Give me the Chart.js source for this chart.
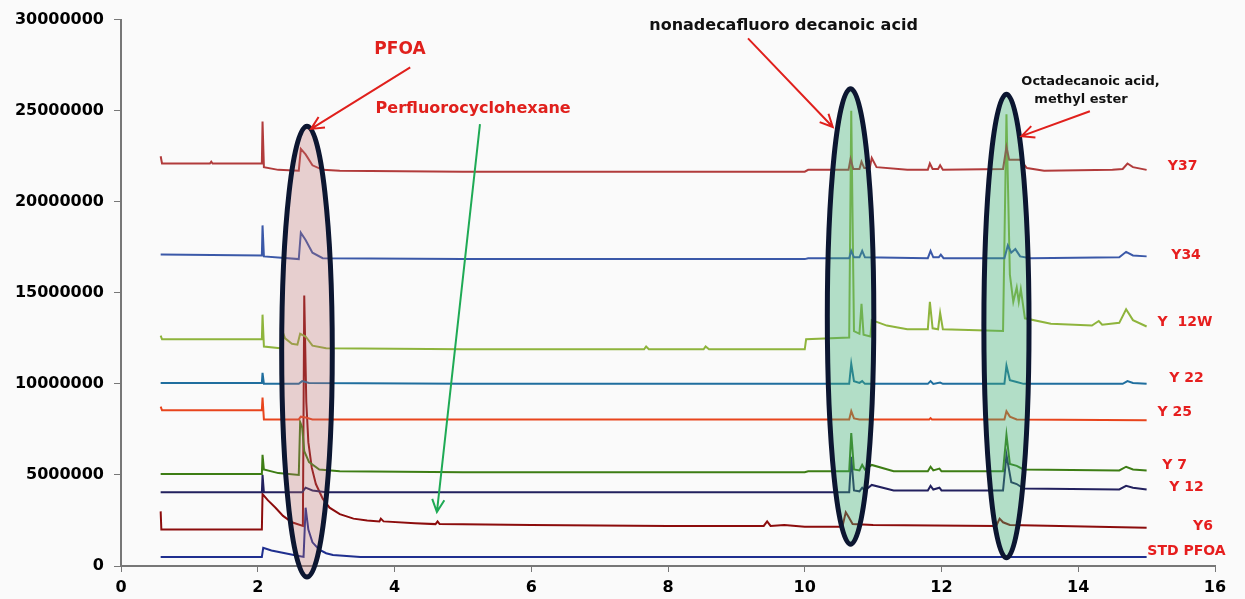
<!DOCTYPE html>
<html lang="en">
<head>
  <meta charset="UTF-8">
  <title>Cromatogramas PFOA</title>
  <script src="https://cdn.jsdelivr.net/npm/chart.js"></script>
  <style>
    html, body { margin: 0; padding: 0; background: #fafafa; }
    #chartContainer { width: 1245px; height: 599px; position: relative; }
  </style>
</head>
<body>
  <div id="chartContainer">
    <canvas id="myChart"></canvas>
  </div>

  <script>
    // Datos: [tiempo de retención (min), abundancia (millones)]
    const seriesNames = ['Y37', 'Y34', 'Y  12W', 'Y 22', 'Y 25', 'Y 7', 'Y 12', 'Y6', 'STD PFOA'];

    const y37 = [[0.58,22.5],[0.6,22.1],[1.3,22.1],[1.32,22.2],[1.34,22.1],[2.06,22.1],[2.07,24.4],[2.09,21.9],[2.3,21.75],[2.6,21.7],
      [2.63,22.9],[2.7,22.6],[2.8,22.0],[2.95,21.75],[3.2,21.7],[5,21.65],[8,21.65],[10,21.65],[10.05,21.75],[10.64,21.75],
      [10.67,22.35],[10.71,21.8],[10.8,21.8],[10.83,22.2],[10.87,21.85],[10.95,21.85],[10.98,22.4],[11.05,21.9],[11.5,21.75],
      [11.8,21.75],[11.83,22.1],[11.87,21.8],[11.95,21.8],[11.98,22.0],[12.02,21.75],[12.9,21.8],[12.95,23.0],[12.99,22.3],
      [13.15,22.3],[13.25,21.85],[13.5,21.7],[14.5,21.75],[14.65,21.8],[14.72,22.1],[14.8,21.9],[15,21.75]];

    const y34 = [[0.58,17.1],[2.06,17.05],[2.07,18.7],[2.09,17.0],[2.6,16.85],[2.63,18.3],[2.7,17.9],[2.8,17.2],[2.95,16.9],
      [5,16.85],[10,16.85],[10.05,16.9],[10.65,16.9],[10.68,17.3],[10.72,16.95],[10.8,16.95],[10.84,17.3],[10.88,16.95],
      [11.8,16.9],[11.84,17.3],[11.88,16.95],[11.96,16.95],[11.99,17.1],[12.03,16.9],[12.92,16.9],[12.97,17.6],[13.02,17.2],
      [13.08,17.4],[13.15,17.0],[13.3,16.9],[14.6,16.95],[14.7,17.25],[14.8,17.05],[15,17.0]];

    const y12w = [[0.58,12.65],[0.6,12.45],[2.06,12.45],[2.07,13.8],[2.09,12.05],[2.33,11.95],[2.34,13.1],[2.4,12.5],[2.5,12.2],
      [2.58,12.15],[2.62,12.75],[2.7,12.6],[2.8,12.1],[3.0,11.95],[5,11.9],[7.65,11.9],[7.68,12.05],[7.72,11.9],[8.52,11.9],
      [8.55,12.05],[8.6,11.9],[10.0,11.9],[10.02,12.45],[10.65,12.55],[10.68,25.0],[10.72,12.9],[10.8,12.75],[10.83,14.4],
      [10.86,12.7],[10.96,12.6],[10.98,13.5],[11.2,13.2],[11.5,13.0],[11.8,13.0],[11.83,14.5],[11.87,13.05],[11.95,13.0],
      [11.98,13.9],[12.02,13.0],[12.9,12.9],[12.95,24.8],[13.0,16.0],[13.05,14.5],[13.1,15.3],[13.13,14.5],[13.16,15.2],
      [13.22,13.6],[13.6,13.3],[14.2,13.2],[14.3,13.45],[14.35,13.25],[14.6,13.35],[14.7,14.1],[14.8,13.5],[15,13.15]];

    const y22 = [[0.58,10.05],[2.06,10.05],[2.07,10.6],[2.09,10.0],[2.6,10.0],[2.65,10.15],[2.75,10.05],[5,10.0],[10.65,10.0],
      [10.68,11.1],[10.72,10.15],[10.8,10.05],[10.84,10.15],[10.88,10.0],[11.8,10.0],[11.84,10.15],[11.88,10.0],[11.98,10.07],
      [12.02,10.0],[12.92,10.0],[12.95,11.0],[13.0,10.2],[13.1,10.1],[13.2,10.0],[14.65,10.0],[14.72,10.15],[14.8,10.05],[15,10.0]];

    const y25 = [[0.58,8.75],[0.6,8.55],[2.06,8.55],[2.07,9.25],[2.09,8.05],[2.6,8.05],[2.63,8.2],[2.7,8.15],[2.8,8.05],
      [10.65,8.05],[10.68,8.5],[10.72,8.1],[10.8,8.05],[11.82,8.05],[11.84,8.12],[11.86,8.05],[12.92,8.05],[12.95,8.5],
      [13.0,8.2],[13.1,8.05],[15,8.0]];

    const y7 = [[0.58,5.05],[2.06,5.05],[2.07,6.1],[2.09,5.3],[2.3,5.1],[2.6,5.0],[2.62,7.9],[2.65,7.6],[2.68,6.3],[2.75,5.7],
      [2.9,5.3],[3.2,5.2],[5,5.15],[10,5.15],[10.05,5.2],[10.65,5.2],[10.68,7.3],[10.72,5.3],[10.8,5.25],[10.84,5.55],
      [10.88,5.3],[10.98,5.55],[11.3,5.2],[11.8,5.2],[11.84,5.45],[11.88,5.25],[11.97,5.35],[12.0,5.2],[12.9,5.2],
      [12.95,7.2],[13.0,5.6],[13.1,5.5],[13.2,5.3],[14.6,5.25],[14.7,5.45],[14.8,5.3],[15,5.25]];

    const y12 = [[0.58,4.05],[2.06,4.05],[2.07,5.0],[2.09,4.05],[2.65,4.05],[2.7,4.3],[2.8,4.15],[3.0,4.05],[10,4.05],
      [10.65,4.05],[10.68,6.0],[10.72,4.15],[10.8,4.1],[10.84,4.3],[10.88,4.15],[10.98,4.45],[11.3,4.15],[11.8,4.15],
      [11.84,4.4],[11.88,4.2],[11.97,4.3],[12.0,4.15],[12.9,4.15],[12.95,6.1],[13.02,4.6],[13.1,4.5],[13.2,4.25],
      [14.6,4.2],[14.7,4.4],[14.8,4.3],[15,4.2]];

    const y6 = [[0.58,3.0],[0.59,2.0],[2.06,2.0],[2.07,3.95],[2.15,3.6],[2.26,3.2],[2.37,2.75],[2.5,2.4],[2.66,2.2],
      [2.68,14.85],[2.71,9.0],[2.74,6.8],[2.79,5.4],[2.85,4.5],[2.95,3.7],[3.05,3.2],[3.2,2.85],[3.4,2.6],[3.6,2.5],
      [3.78,2.45],[3.8,2.6],[3.84,2.45],[4.3,2.35],[4.6,2.3],[4.63,2.45],[4.66,2.3],[6,2.25],[8,2.2],[9.4,2.2],
      [9.45,2.45],[9.5,2.2],[9.7,2.25],[10.0,2.15],[10.55,2.15],[10.6,2.95],[10.64,2.7],[10.7,2.3],[11,2.25],[12.8,2.2],
      [12.85,2.6],[12.9,2.4],[13.0,2.25],[15,2.1]];

    const stdPfoa = [[0.58,0.5],[2.06,0.5],[2.08,1.0],[2.2,0.85],[2.4,0.7],[2.6,0.55],[2.67,0.5],[2.7,3.2],[2.74,2.0],
      [2.8,1.3],[2.9,0.9],[3.0,0.7],[3.1,0.6],[3.5,0.5],[15,0.5]];

    const allSeries = [y37, y34, y12w, y22, y25, y7, y12, y6, stdPfoa];
    const seriesColors = ['#b13b3b', '#3a58a8', '#8eb43c', '#1f6e9e', '#e8441c', '#3d7d14', '#22205e', '#8c0c0c', '#1f2f8f'];

    // Posición de las etiquetas a la derecha (min, millones)
    const labelPos = [[15.31,21.96],[15.36,17.03],[15.16,13.36],[15.33,10.3],[15.16,8.43],[15.23,5.53],[15.33,4.33],[15.68,2.19],[15.01,0.82]];

    // Elipses que marcan los picos
    const ellipses = [
      { x: 2.72, top: 24.15, bottom: -0.6, half: 0.37, fill: 'rgba(190,110,110,0.30)' },
      { x: 10.67, top: 26.2, bottom: 1.2, half: 0.34, fill: 'rgba(60,175,115,0.38)' },
      { x: 12.95, top: 25.9, bottom: 0.45, half: 0.33, fill: 'rgba(60,175,115,0.38)' }
    ];

    // Flechas: desde (x1,y1) hasta (x2,y2)
    const arrows = [
      { from: [4.23, 27.38], to: [2.78, 24.0], color: '#e0201c' },
      { from: [5.25, 24.26], to: [4.62, 2.96], color: '#1faa55' },
      { from: [9.17, 28.97], to: [10.41, 24.1], color: '#e0201c' },
      { from: [14.17, 24.97], to: [13.17, 23.6], color: '#e0201c' }
    ];

    const notes = [
      { text: 'PFOA', x: 4.08, y: 28.37, color: '#e0201c', size: 17 },
      { text: 'Perfluorocyclohexane', x: 5.15, y: 25.08, color: '#e0201c', size: 16 },
      { text: 'nonadecafluoro decanoic acid', x: 9.69, y: 29.63, color: '#111111', size: 16 },
      { text: 'Octadecanoic acid,', x: 14.18, y: 26.62, color: '#111111', size: 13 },
      { text: 'methyl ester', x: 14.04, y: 25.58, color: '#111111', size: 13 }
    ];

    const FONT = '"DejaVu Sans", sans-serif';

    function drawArrow(ctx, x1, y1, x2, y2, color) {
      const a = Math.atan2(y2 - y1, x2 - x1);
      const len = 14;
      ctx.strokeStyle = color;
      ctx.lineWidth = 2;
      ctx.beginPath();
      ctx.moveTo(x1, y1);
      ctx.lineTo(x2, y2);
      ctx.moveTo(x2 - len * Math.cos(a - 0.45), y2 - len * Math.sin(a - 0.45));
      ctx.lineTo(x2, y2);
      ctx.lineTo(x2 - len * Math.cos(a + 0.45), y2 - len * Math.sin(a + 0.45));
      ctx.stroke();
    }

    const annotPlugin = {
      id: 'annot',
      beforeDraw(chart) {
        const ctx = chart.ctx;
        ctx.save();
        ctx.fillStyle = '#fafafa';
        ctx.fillRect(0, 0, chart.width, chart.height);
        ctx.restore();
      },
      afterDatasetsDraw(chart) {
        const ctx = chart.ctx;
        const xs = chart.scales.x, ys = chart.scales.y;
        const M = 1e6;
        ctx.save();

        // elipses
        ellipses.forEach(e => {
          const cx = xs.getPixelForValue(e.x);
          const t = ys.getPixelForValue(e.top * M);
          const b = ys.getPixelForValue(e.bottom * M);
          const rx = xs.getPixelForValue(e.x + e.half) - cx;
          ctx.beginPath();
          ctx.ellipse(cx, (t + b) / 2, rx, (b - t) / 2, 0, 0, Math.PI * 2);
          ctx.fillStyle = e.fill;
          ctx.fill();
          ctx.lineWidth = 5;
          ctx.strokeStyle = '#0c1631';
          ctx.stroke();
        });

        // flechas
        arrows.forEach(a => {
          drawArrow(ctx,
            xs.getPixelForValue(a.from[0]), ys.getPixelForValue(a.from[1] * M),
            xs.getPixelForValue(a.to[0]), ys.getPixelForValue(a.to[1] * M), a.color);
        });

        // textos
        ctx.textAlign = 'center';
        ctx.textBaseline = 'middle';
        notes.forEach(n => {
          ctx.font = 'bold ' + n.size + 'px ' + FONT;
          ctx.fillStyle = n.color;
          ctx.fillText(n.text, xs.getPixelForValue(n.x), ys.getPixelForValue(n.y * M));
        });

        // etiquetas de series
        ctx.textAlign = 'left';
        ctx.font = 'bold 14px ' + FONT;
        ctx.fillStyle = '#e61e1e';
        seriesNames.forEach((name, i) => {
          ctx.fillText(name, xs.getPixelForValue(labelPos[i][0]), ys.getPixelForValue(labelPos[i][1] * M));
        });
        ctx.restore();
      }
    };

    const datasets = allSeries.map((pts, i) => ({
      label: seriesNames[i],
      data: pts.map(p => ({ x: p[0], y: p[1] * 1e6 })),
      borderColor: seriesColors[i],
      borderWidth: 2,
      pointRadius: 0,
      tension: 0,
      fill: false
    }));

    const ctx = document.getElementById('myChart').getContext('2d');
    new Chart(ctx, {
      type: 'line',
      data: { datasets: datasets },
      options: {
        responsive: true,
        maintainAspectRatio: false,
        animation: false,
        events: [],
        layout: { padding: { top: 18, right: 30, left: 0, bottom: 0 } },
        plugins: { legend: { display: false }, tooltip: { enabled: false } },
        scales: {
          x: {
            type: 'linear',
            min: 0,
            max: 16,
            ticks: { stepSize: 2, color: '#000', padding: 6, font: { family: FONT, weight: 'bold', size: 16 } },
            grid: { display: true, drawOnChartArea: false, drawTicks: true, tickLength: 6, color: '#777' },
            border: { display: true, color: '#777', width: 2 },
            afterFit(scale) { scale.height = 33; }
          },
          y: {
            min: 0,
            max: 30000000,
            ticks: {
              stepSize: 5000000,
              color: '#000',
              padding: 10,
              font: { family: FONT, weight: 'bold', size: 16 },
              callback: v => String(v)
            },
            grid: { display: true, drawOnChartArea: false, drawTicks: true, tickLength: 7, color: '#777' },
            border: { display: true, color: '#777', width: 2 },
            afterFit(scale) { scale.width = 121; }
          }
        }
      },
      plugins: [annotPlugin]
    });
  </script>
</body>
</html>
